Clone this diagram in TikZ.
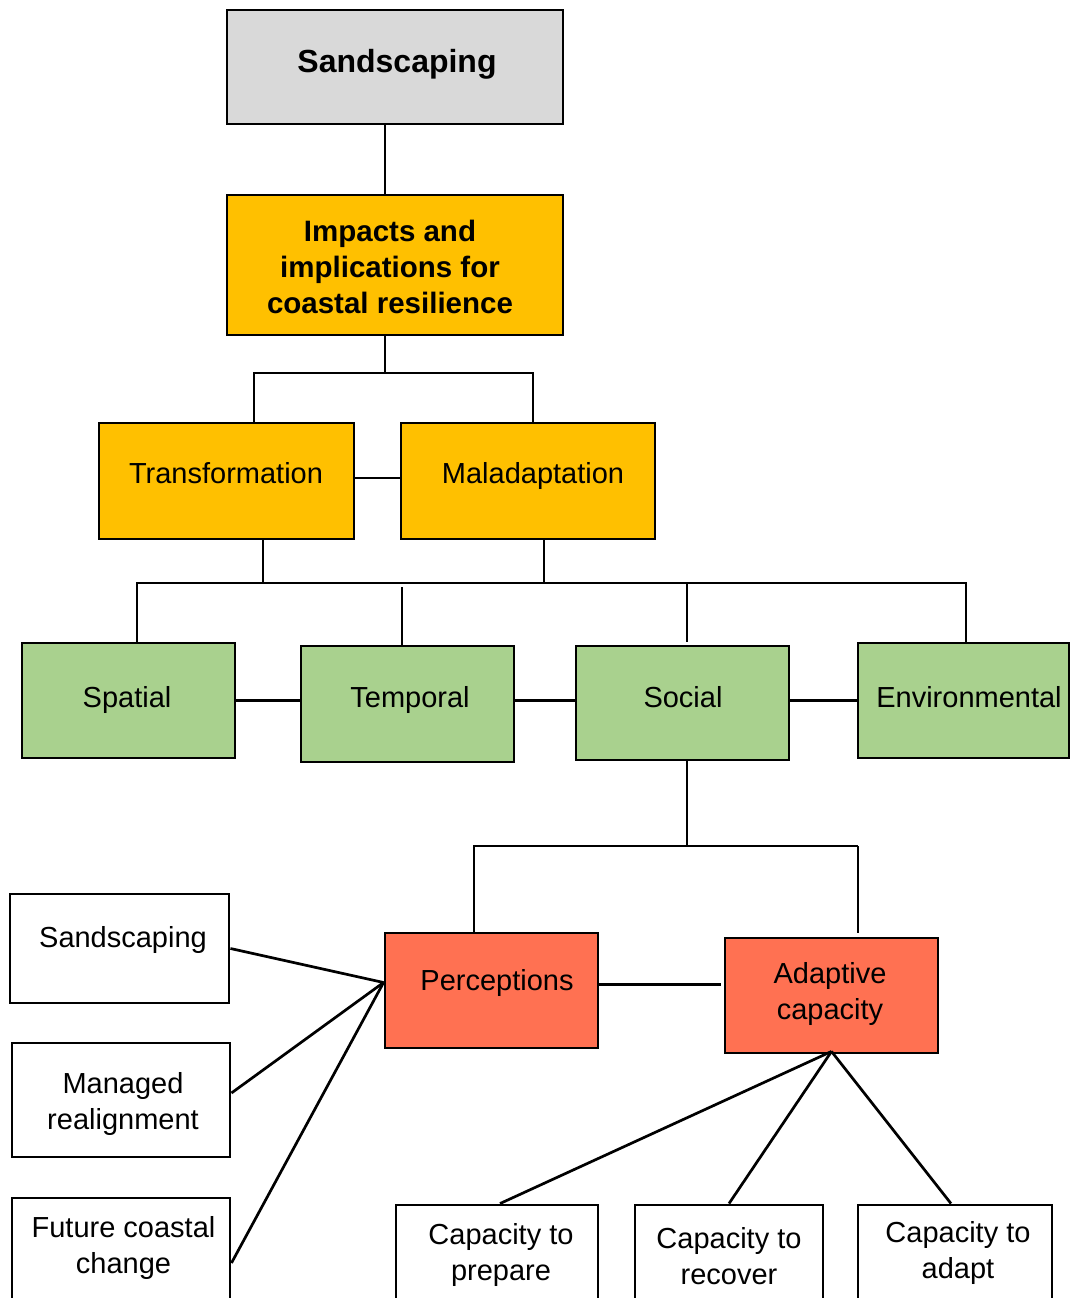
\documentclass[tikz,border=0pt]{standalone}
\usepackage{fontspec}
\setmainfont{Liberation Sans}
\definecolor{topgray}{HTML}{D9D9D9}
\definecolor{gold}{HTML}{FFC000}
\definecolor{leaf}{HTML}{A9D18E}
\definecolor{coral}{HTML}{FF7152}
\tikzset{
  box/.style={draw=black, line width=2.9pt, inner sep=0pt},
  lbl/.style={font=\fontsize{29}{36}\selectfont, align=center, inner sep=0pt},
  blbl/.style={font=\bfseries\fontsize{29.5}{36}\selectfont, align=center, inner sep=0pt},
  wire/.style={draw=black, line width=2.7pt}
}
\begin{document}
\begin{tikzpicture}[x=1pt, y=-1pt]
\useasboundingbox (0,0) rectangle (1071,1298);
\clip (0,0) rectangle (1071,1298);

% level 1 and 2
\node[box, fill=topgray, minimum width=336pt, minimum height=114pt] (s0) at (395,67) {};
\node[box, fill=gold, minimum width=336pt, minimum height=140pt] (imp) at (395,265) {};
% level 3
\node[box, fill=gold, minimum width=255pt, minimum height=116pt] (tr) at (226.5,481) {};
\node[box, fill=gold, minimum width=254pt, minimum height=116pt] (ma) at (528,481) {};
% level 4
\node[box, fill=leaf, minimum width=213pt, minimum height=115pt] (sp) at (128.5,700.5) {};
\node[box, fill=leaf, minimum width=213pt, minimum height=116pt] (te) at (407.5,704) {};
\node[box, fill=leaf, minimum width=213pt, minimum height=114pt] (so) at (682.5,703) {};
\node[box, fill=leaf, minimum width=211pt, minimum height=115pt] (en) at (963.5,700.5) {};
% level 5
\node[box, fill=coral, minimum width=213pt, minimum height=115pt] (pe) at (491.5,990.5) {};
\node[box, fill=coral, minimum width=213pt, minimum height=115pt] (ad) at (831.5,995.5) {};
% left column
\node[box, fill=white, minimum width=219pt, minimum height=109pt] (w1) at (119.5,948.5) {};
\node[box, fill=white, minimum width=218pt, minimum height=114pt] (w2) at (121,1100) {};
\node[box, fill=white, minimum width=218pt, minimum height=130pt] (w3) at (121,1263) {};
% bottom row
\node[box, fill=white, minimum width=202pt, minimum height=120pt] (c1) at (497,1265) {};
\node[box, fill=white, minimum width=188pt, minimum height=120pt] (c2) at (729,1265) {};
\node[box, fill=white, minimum width=194pt, minimum height=120pt] (c3) at (955,1265) {};

% labels
\node[blbl, font=\bfseries\fontsize{32}{36}\selectfont, anchor=base] (s0-t) at (397,73) {Sandscaping};
\node[blbl] (imp-t) at (390,267) {Impacts and\\implications for\\coastal resilience};
\node[lbl, anchor=base] (tr-t) at (226,483) {Transformation};
\node[lbl, anchor=base] (ma-t) at (533,483) {Maladaptation};
\node[lbl, anchor=base] (sp-t) at (127,707) {Spatial};
\node[lbl, anchor=base] (te-t) at (410,707) {Temporal};
\node[lbl, anchor=base] (so-t) at (683,707) {Social};
\node[lbl, anchor=base] (en-t) at (969,707) {Environmental};
\node[lbl, anchor=base] (pe-t) at (497,990) {Perceptions};
\node[lbl] (ad-t) at (830,994) {Adaptive\\capacity};
\node[lbl, anchor=base] (w1-t) at (123,947) {Sandscaping};
\node[lbl] (w2-t) at (123,1104) {Managed\\realignment};
\node[lbl] (w3-t) at (123.5,1248) {Future coastal\\change};
\node[lbl] (c1-t) at (501,1255) {Capacity to\\prepare};
\node[lbl] (c2-t) at (729,1256) {Capacity to\\recover};
\node[lbl] (c3-t) at (958,1253) {Capacity to\\adapt};

% junction points of the tree
\coordinate (b0) at (385,373);
\coordinate (b0L) at (254,373);
\coordinate (b0R) at (533,373);
\coordinate (t1) at (263,583);
\coordinate (t2) at (544,583);
\coordinate (b1L) at (137,583);
\coordinate (b1R) at (966,583);
\coordinate (t3) at (402,587);
\coordinate (t4) at (687,583);
\coordinate (b2) at (687,846);
\coordinate (b2L) at (474,846);
\coordinate (b2R) at (858,846);
\coordinate (pc) at ([yshift=8pt]pe.west);
\coordinate (ac) at ([yshift=3pt]ad.south);

% connectors
\draw[wire] (s0.south -| b0) -- (imp.north -| b0);
\draw[wire] (imp.south -| b0) -- (b0);
\draw[wire] (tr.north -| b0L) |- (b0R) -- (ma.north -| b0R);
\draw[wire] ([yshift=3pt]tr.east) -- ([yshift=3pt]tr.east -| ma.west);
\draw[wire] (tr.south -| t1) -- (t1);
\draw[wire] (ma.south -| t2) -- (t2);
\draw[wire] (sp.north -| b1L) |- (b1R) -- (en.north -| b1R);
\draw[wire] (t3) -- (te.north -| t3);
\draw[wire, shorten >=3pt] (t4) -- (so.north -| t4);
\draw[wire] (sp.east) -- (sp.east -| te.west);
\draw[wire] (te.east |- sp.east) -- (so.west |- sp.east);
\draw[wire] (so.east |- sp.east) -- (en.west);
\draw[wire] (so.south -| b2) -- (b2);
\draw[wire] (pe.north -| b2L) |- (b2R);
\draw[wire, shorten >=4pt] (b2R) -- (ad.north -| b2R);
\draw[wire, shorten >=3pt] ([yshift=6pt]pe.east) -- ([yshift=6pt]pe.east -| ad.west);
\draw[wire] (w1.east) -- (pc);
\draw[wire] ([yshift=7pt]w2.east) -- (pc);
\draw[wire] (w3.east) -- (pc);
\draw[wire] (ac) -- ([xshift=3pt]c1.north);
\draw[wire] (ac) -- (c2.north);
\draw[wire] (ac) -- ([xshift=-4pt]c3.north);
\end{tikzpicture}
\end{document}
